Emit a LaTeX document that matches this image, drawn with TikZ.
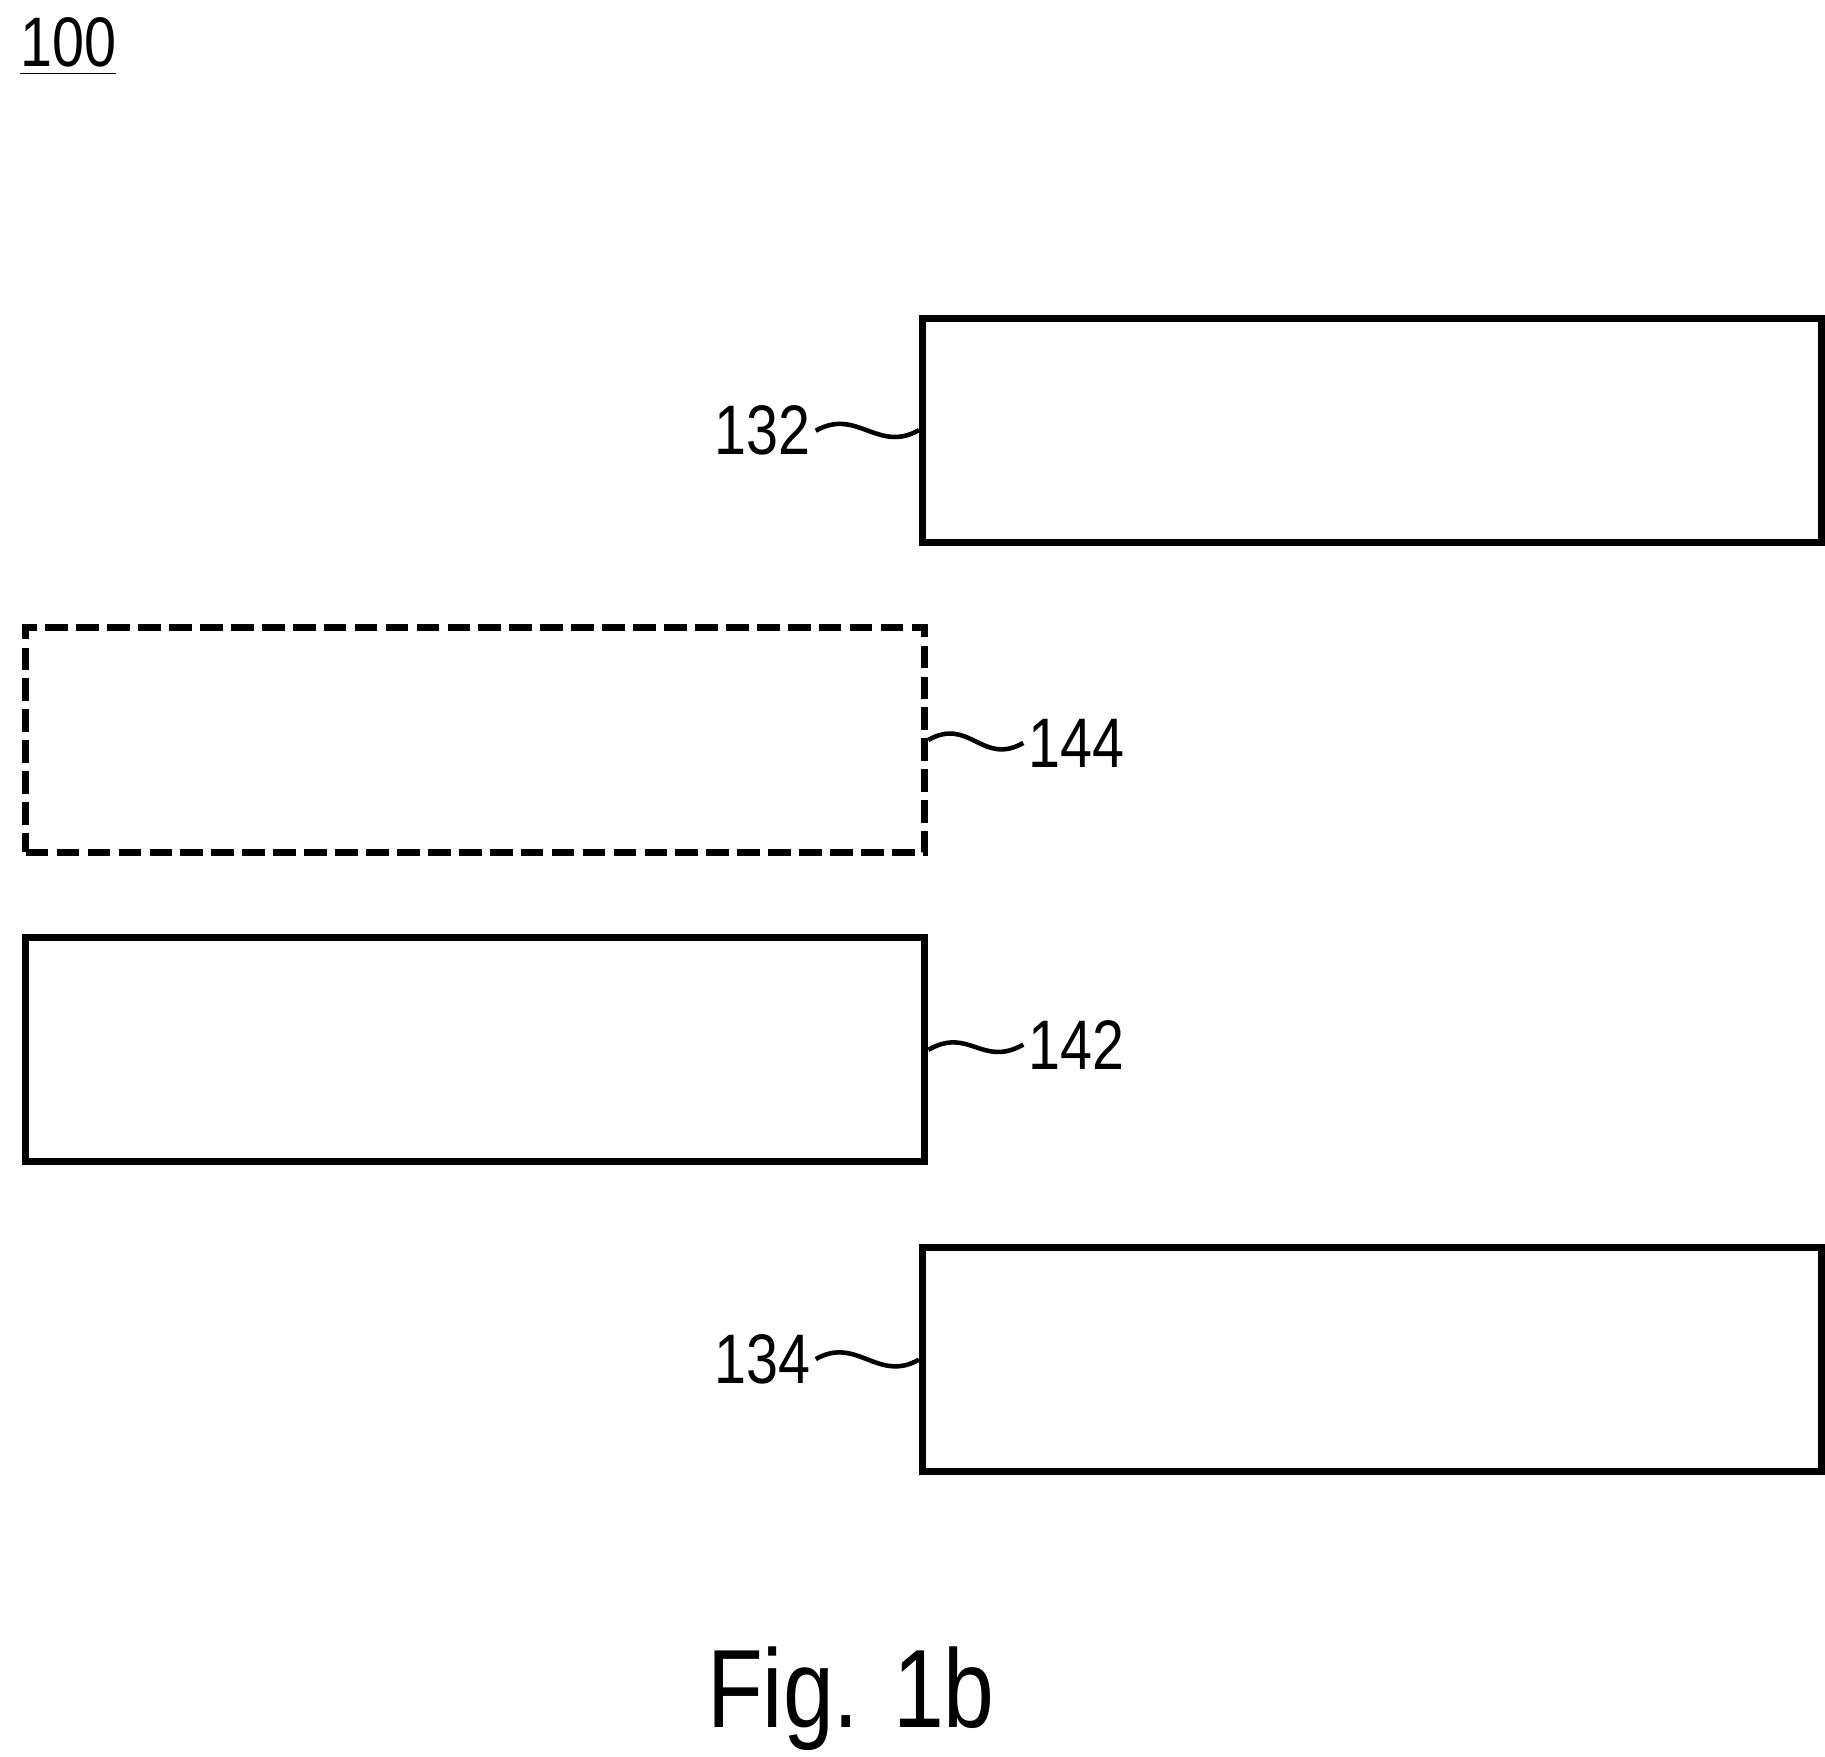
\documentclass[tikz,border=0pt]{standalone}
\usepackage{fontspec}
\setmainfont{Liberation Sans}[FakeStretch=0.82]
\usetikzlibrary{positioning}
\tikzstyle{block}=[draw,line width=1.7pt,minimum width=7.66cm,minimum height=1.91cm,inner sep=0pt,anchor=north west]
\tikzstyle{optblock}=[block,dash pattern=on 5.5pt off 2pt]
\tikzstyle{refnum}=[font=\fontsize{17}{17}\selectfont,inner sep=1pt]
\tikzstyle{lead}=[draw,line width=1.1pt]
\begin{document}
\begin{tikzpicture}
\useasboundingbox (0,0) rectangle (15.55,-14.97);

%Blocks
\node[block] (b132) at (7.83,-2.68) {};
\node[optblock] (b144) at (0.19,-5.32) {};
\node[block] (b142) at (0.19,-7.96) {};
\node[block] (b134) at (7.83,-10.60) {};

%Reference numbers
\node[refnum] (l132) at (6.50,-3.67) {132};
\node[refnum] (l144) at (9.17,-6.33) {144};
\node[refnum] (l142) at (9.17,-8.90) {142};
\node[refnum] (l134) at (6.50,-11.58) {134};

\foreach \lab/\blk in {l132/b132, l134/b134}
    \path[lead] (\lab.east) .. controls +(0.35,0.2) and +(-0.35,-0.2) .. (\blk.west);
\foreach \lab/\blk in {l144/b144, l142/b142}
    \path[lead] (\blk.east) .. controls +(0.35,0.2) and +(-0.35,-0.2) .. (\lab.west);

\node[refnum] (l100) at (0.58,-0.40) {\underline{100}};
\node[font=\fontsize{27}{27}\selectfont] (fig) at (7.25,-14.47) {Fig. 1b};

\end{tikzpicture}
\end{document}
